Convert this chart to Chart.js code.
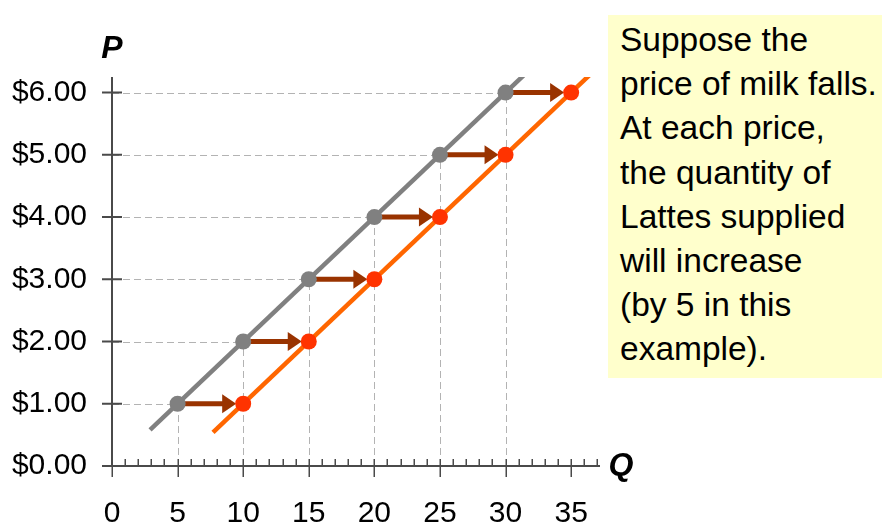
<!DOCTYPE html>
<html>
<head>
<meta charset="utf-8">
<script src="https://cdn.jsdelivr.net/npm/chart.js@4/dist/chart.umd.min.js"></script>
<style>
  html, body { margin: 0; padding: 0; background: #ffffff; }
  #wrap { position: relative; width: 882px; height: 526px; overflow: hidden; }
  #chart { position: absolute; left: 0; top: 0; }
  #note {
    position: absolute; left: 608px; top: 15px; width: 274px; height: 363px;
    background: #ffffcc;
  }
  #noteText {
    position: absolute; left: 620px; top: 18px;
    font-family: Arial, "Liberation Sans", sans-serif; font-size: 33.5px; line-height: 44.2px;
    color: #000; white-space: pre;
  }
</style>
</head>
<body>
<div id="wrap">
  <canvas id="chart" width="882" height="526"></canvas>
  <div id="note"></div>
  <div id="noteText">Suppose the
price of milk falls.
At each price,
the quantity of
Lattes supplied
will increase
(by 5 in this
example).</div>
</div>
<script>
// Prices and the quantity supplied at each price, before and after milk gets cheaper
const prices = [1, 2, 3, 4, 5, 6];
const qtyBefore = [5, 10, 15, 20, 25, 30];
const qtyAfter = [10, 15, 20, 25, 30, 35];

// End points of the two supply curves
const supplyOldQ = [2.9, 31.7];
const supplyOldP = [0.58, 6.34];
const supplyNewQ = [7.7, 36.6];
const supplyNewP = [0.54, 6.32];

// Axis ranges and tick spacing
const qMax = 37.2;
const pMax = 6.25;
const qStep = 5;
const pStep = 1;

const FONT = 'Arial, "Liberation Sans", sans-serif';
const GRAY = '#808080';
const ORANGE = '#ff6600';
const RED = '#ff3300';
const ARROW = '#993300';
const AXIS = '#4a4a4a';

const toPoints = (xs, ys) => xs.map((x, i) => ({ x: x, y: ys[i] }));

const axesPlugin = {
  id: 'axesAndGuides',
  beforeDatasetsDraw(chart) {
    const ctx = chart.ctx;
    const xs = chart.scales.x, ys = chart.scales.y;
    const x0 = xs.getPixelForValue(0), y0 = ys.getPixelForValue(0);
    ctx.save();
    // dashed drop lines from each original point to both axes
    ctx.strokeStyle = '#b3b3b3';
    ctx.lineWidth = 1;
    ctx.setLineDash([7, 4]);
    prices.forEach((p, i) => {
      const px = xs.getPixelForValue(qtyBefore[i]);
      const py = ys.getPixelForValue(p);
      ctx.beginPath();
      ctx.moveTo(x0, Math.round(py) + 0.5);
      ctx.lineTo(px, Math.round(py) + 0.5);
      ctx.moveTo(Math.round(px) + 0.5, y0);
      ctx.lineTo(Math.round(px) + 0.5, py);
      ctx.stroke();
    });
    ctx.setLineDash([]);
    // axis lines
    ctx.strokeStyle = AXIS;
    ctx.lineWidth = 2;
    ctx.beginPath();
    ctx.moveTo(x0, ys.getPixelForValue(pMax));
    ctx.lineTo(x0, y0);
    ctx.moveTo(x0 - 10, y0);
    ctx.lineTo(xs.getPixelForValue(qMax), y0);
    ctx.stroke();
    // price ticks
    ctx.beginPath();
    for (let p = pStep; p <= pMax; p += pStep) {
      const py = ys.getPixelForValue(p);
      ctx.moveTo(x0 - 10, py);
      ctx.lineTo(x0 + 10, py);
    }
    ctx.moveTo(x0, y0);
    ctx.lineTo(x0 + 8, y0);
    ctx.stroke();
    // quantity ticks: minor every unit, major every five
    ctx.lineWidth = 1.5;
    ctx.beginPath();
    for (let q = 0; q <= Math.floor(qMax); q++) {
      const qx = Math.round(xs.getPixelForValue(q)) + 0.25;
      if (q % qStep === 0) {
        ctx.moveTo(qx, y0 - 7);
        ctx.lineTo(qx, y0 + 11);
      } else {
        ctx.moveTo(qx, y0 - 7);
        ctx.lineTo(qx, y0);
      }
    }
    ctx.stroke();
    // axis titles
    ctx.fillStyle = '#000';
    ctx.font = 'italic bold 32px ' + FONT;
    ctx.textAlign = 'center';
    ctx.textBaseline = 'middle';
    ctx.fillText('P', x0, 49);
    ctx.fillText('Q', xs.getPixelForValue(qMax) + 21, y0);
    ctx.restore();
  },
  afterDatasetDraw(chart, args) {
    if (args.index !== 2) return;
    // shift arrows from each original point towards the new point
    const ctx = chart.ctx;
    const xs = chart.scales.x, ys = chart.scales.y;
    ctx.save();
    ctx.fillStyle = ARROW;
    ctx.strokeStyle = ARROW;
    prices.forEach((p, i) => {
      const py = ys.getPixelForValue(p);
      const xa = xs.getPixelForValue(qtyBefore[i]) + 7;
      const xb = xs.getPixelForValue(qtyAfter[i]) - 7;
      const head = 14;
      ctx.lineWidth = 5;
      ctx.beginPath();
      ctx.moveTo(xa, py);
      ctx.lineTo(xb - head + 1, py);
      ctx.stroke();
      ctx.beginPath();
      ctx.moveTo(xb, py);
      ctx.lineTo(xb - head, py - 9.5);
      ctx.lineTo(xb - head, py + 9.5);
      ctx.closePath();
      ctx.fill();
    });
    ctx.restore();
  }
};

new Chart(document.getElementById('chart'), {
  type: 'scatter',
  data: {
    datasets: [
      {
        label: 'After',
        data: toPoints(qtyAfter, prices),
        backgroundColor: RED, borderColor: RED, borderWidth: 0,
        pointRadius: 8, showLine: false
      },
      {
        label: 'Before',
        data: toPoints(qtyBefore, prices),
        backgroundColor: GRAY, borderColor: GRAY, borderWidth: 0,
        pointRadius: 8, showLine: false
      },
      {
        label: 'New supply',
        data: toPoints(supplyNewQ, supplyNewP),
        borderColor: ORANGE, borderWidth: 4.5, pointRadius: 0,
        showLine: true, borderCapStyle: 'butt'
      },
      {
        label: 'Old supply',
        data: toPoints(supplyOldQ, supplyOldP),
        borderColor: GRAY, borderWidth: 4.5, pointRadius: 0,
        showLine: true, borderCapStyle: 'butt'
      }
    ]
  },
  options: {
    responsive: false,
    animation: false,
    events: [],
    layout: { padding: { top: 77, right: 282, left: 0, bottom: 0 } },
    plugins: { legend: { display: false }, tooltip: { enabled: false } },
    scales: {
      x: {
        type: 'linear', min: 0, max: qMax,
        grid: { display: false, drawTicks: false },
        border: { display: false },
        ticks: {
          stepSize: qStep, includeBounds: false, padding: 30,
          color: '#000', font: { family: FONT, size: 30 },
          maxRotation: 0, autoSkip: false
        },
        afterFit(s) { s.height = 60; }
      },
      y: {
        type: 'linear', min: 0, max: pMax,
        grid: { display: false, drawTicks: false },
        border: { display: false },
        ticks: {
          stepSize: pStep, includeBounds: false, padding: 25,
          color: '#000', font: { family: FONT, size: 30 },
          callback: v => '$' + v.toFixed(2)
        },
        afterFit(s) { s.width = 112; }
      }
    }
  },
  plugins: [axesPlugin]
});
</script>
</body>
</html>
